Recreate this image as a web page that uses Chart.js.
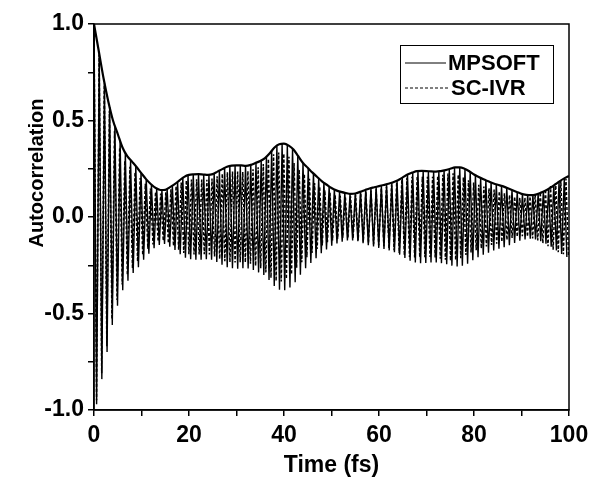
<!DOCTYPE html>
<html>
<head>
<meta charset="utf-8">
<script src="https://cdn.jsdelivr.net/npm/chart.js@4.4.1/dist/chart.umd.min.js"></script>
<style>
  html, body { margin: 0; padding: 0; background: #fff; }
  #wrap { width: 592px; height: 477px; }
</style>
</head>
<body>
<div id="wrap"><canvas id="c" width="592" height="477"></canvas></div>
<script>
// MPSOFT modulus |C(t)|, one value per fs from 0 to 100
const envelope = [
  1.0, 0.86, 0.72, 0.6, 0.5, 0.43, 0.36, 0.315, 0.287, 0.258,
  0.226, 0.195, 0.17, 0.15, 0.14, 0.141, 0.155, 0.17, 0.19, 0.208,
  0.218, 0.221, 0.222, 0.22, 0.218, 0.222, 0.235, 0.248, 0.26, 0.266,
  0.268, 0.267, 0.265, 0.27, 0.28, 0.29, 0.305, 0.33, 0.36, 0.377,
  0.38, 0.37, 0.35, 0.315, 0.28, 0.255, 0.23, 0.207, 0.185, 0.167,
  0.15, 0.138, 0.13, 0.124, 0.12, 0.122, 0.13, 0.139, 0.148, 0.154,
  0.16, 0.166, 0.172, 0.18, 0.19, 0.205, 0.22, 0.23, 0.238, 0.239,
  0.238, 0.236, 0.235, 0.238, 0.243, 0.25, 0.257, 0.257, 0.25, 0.237,
  0.22, 0.207, 0.195, 0.185, 0.175, 0.167, 0.16, 0.15, 0.14, 0.13,
  0.12, 0.115, 0.113, 0.116, 0.125, 0.136, 0.15, 0.167, 0.185, 0.2,
  0.212
];
const envStep = 1.0;

// real part, successive maxima / minima (half period apart)
const mpsoftHalf = 0.55;
const mpsoftRe = [
  1.0, -0.97, 0.846, -0.84, 0.696, -0.7, 0.57, -0.56, 0.472, -0.46,
  0.395, -0.38, 0.331, -0.33, 0.295, -0.29, 0.264, -0.26, 0.229, -0.222,
  0.195, -0.19, 0.168, -0.162, 0.148, -0.145, 0.139, -0.14, 0.146, -0.154,
  0.162, -0.171, 0.182, -0.193, 0.203, -0.211, 0.216, -0.219, 0.221, -0.221,
  0.222, -0.221, 0.22, -0.219, 0.219, -0.221, 0.226, -0.233, 0.24, -0.247,
  0.254, -0.26, 0.264, -0.266, 0.267, -0.268, 0.267, -0.266, 0.265, -0.267,
  0.27, -0.275, 0.281, -0.287, 0.293, -0.301, 0.312, -0.326, 0.342, -0.358,
  0.369, -0.377, 0.379, -0.379, 0.373, -0.365, 0.354, -0.338, 0.318, -0.299,
  0.28, -0.266, 0.253, -0.238, 0.225, -0.213, 0.2, -0.188, 0.178, -0.168,
  0.158, -0.149, 0.143, -0.137, 0.132, -0.128, 0.125, -0.122, 0.12, -0.121,
  0.122, -0.126, 0.131, -0.136, 0.14, -0.146, 0.149, -0.153, 0.156, -0.16,
  0.163, -0.166, 0.17, -0.173, 0.178, -0.183, 0.188, -0.195, 0.204, -0.212,
  0.22, -0.226, 0.231, -0.235, 0.238, -0.239, 0.239, -0.238, 0.237, -0.236,
  0.236, -0.235, 0.237, -0.239, 0.242, -0.245, 0.249, -0.252, 0.256, -0.257,
  0.257, -0.253, 0.249, -0.242, 0.234, -0.224, 0.216, -0.209, 0.202, -0.196,
  0.19, -0.185, 0.179, -0.174, 0.169, -0.165, 0.161, -0.157, 0.151, -0.146,
  0.14, -0.135, 0.129, -0.123, 0.119, -0.116, 0.114, -0.113, 0.114, -0.116,
  0.12, -0.126, 0.132, -0.138, 0.146, -0.154, 0.164, -0.173, 0.183, -0.192,
  0.2, -0.207
];

const scivrHalf = 0.54;
const scivrRe = [
  1.0, -0.95, 0.84, -0.81, 0.685, -0.67, 0.55, -0.53, 0.445, -0.43,
  0.36, -0.35, 0.291, -0.3, 0.26, -0.265, 0.232, -0.23, 0.202, -0.197,
  0.172, -0.165, 0.148, -0.142, 0.13, -0.127, 0.122, -0.123, 0.128, -0.136,
  0.143, -0.15, 0.16, -0.17, 0.179, -0.186, 0.19, -0.193, 0.194, -0.194,
  0.195, -0.194, 0.194, -0.193, 0.193, -0.194, 0.199, -0.205, 0.211, -0.217,
  0.224, -0.229, 0.232, -0.234, 0.235, -0.236, 0.235, -0.234, 0.233, -0.235,
  0.238, -0.242, 0.247, -0.253, 0.258, -0.265, 0.275, -0.287, 0.301, -0.315,
  0.325, -0.332, 0.334, -0.334, 0.328, -0.321, 0.312, -0.297, 0.28, -0.263,
  0.246, -0.234, 0.223, -0.209, 0.198, -0.187, 0.176, -0.165, 0.157, -0.148,
  0.139, -0.131, 0.126, -0.121, 0.116, -0.113, 0.11, -0.107, 0.106, -0.106,
  0.107, -0.111, 0.115, -0.12, 0.123, -0.128, 0.131, -0.135, 0.137, -0.141,
  0.143, -0.146, 0.15, -0.152, 0.157, -0.161, 0.165, -0.172, 0.18, -0.187,
  0.194, -0.199, 0.203, -0.207, 0.209, -0.21, 0.21, -0.209, 0.209, -0.208,
  0.208, -0.207, 0.209, -0.21, 0.213, -0.216, 0.219, -0.222, 0.225, -0.226,
  0.226, -0.223, 0.219, -0.213, 0.206, -0.197, 0.19, -0.184, 0.178, -0.172,
  0.167, -0.163, 0.158, -0.153, 0.149, -0.145, 0.142, -0.138, 0.133, -0.128,
  0.123, -0.119, 0.114, -0.108, 0.105, -0.102, 0.1, -0.099, 0.1, -0.102,
  0.106, -0.111, 0.116, -0.121, 0.128, -0.136, 0.144, -0.152, 0.161, -0.169,
  0.176, -0.182, 0.188, -0.193, 0.198, -0.202
];

const legendNames = ['MPSOFT', 'SC-IVR'];
const xTitle = 'Time (fs)';
const yTitle = 'Autocorrelation';

const FONT = '"Liberation Sans", Arial, sans-serif';
const toPts = (arr, step) => arr.map((v, i) => ({ x: i * step, y: v }));

// frame, axis titles and the boxed legend
const decor = {
  id: 'decor',
  afterDraw(chart) {
    const { ctx, chartArea: a } = chart;
    ctx.save();
    ctx.strokeStyle = '#000';
    ctx.lineWidth = 1.5;
    ctx.strokeRect(a.left, a.top, a.right - a.left, a.bottom - a.top);

    ctx.fillStyle = '#000';
    ctx.font = `bold 23px ${FONT}`;
    ctx.textAlign = 'center';
    ctx.textBaseline = 'middle';
    ctx.fillText(xTitle, (a.left + a.right) / 2, 466);
    ctx.font = `bold 20px ${FONT}`;
    ctx.save();
    ctx.translate(37, 173);
    ctx.rotate(-Math.PI / 2);
    ctx.fillText(yTitle, 0, 0);
    ctx.restore();

    // legend
    ctx.fillStyle = '#fff';
    ctx.fillRect(400, 45, 153, 58);
    ctx.lineWidth = 1;
    ctx.strokeRect(400.5, 45.5, 153, 58);
    ctx.fillStyle = '#000';
    ctx.font = `bold 22px ${FONT}`;
    ctx.textAlign = 'left';
    ctx.beginPath();
    ctx.moveTo(405, 63); ctx.lineTo(446, 63);
    ctx.stroke();
    ctx.fillText(legendNames[0], 448, 64);
    ctx.setLineDash([3, 2]);
    ctx.beginPath();
    ctx.moveTo(405, 88); ctx.lineTo(449, 88);
    ctx.stroke();
    ctx.setLineDash([]);
    ctx.fillText(legendNames[1], 451, 89);
    ctx.restore();
  }
};

new Chart(document.getElementById('c'), {
  type: 'line',
  data: {
    datasets: [
      {
        label: 'MPSOFT |C|',
        data: toPts(envelope, envStep),
        borderColor: '#000',
        borderWidth: 2.2,
        pointRadius: 0,
        cubicInterpolationMode: 'monotone',
        order: 0
      },
      {
        label: legendNames[1],
        data: toPts(scivrRe, scivrHalf),
        borderColor: '#000',
        borderWidth: 1.5,
        borderDash: [3, 2],
        pointRadius: 0,
        tension: 0,
        order: 1
      },
      {
        label: legendNames[0],
        data: toPts(mpsoftRe, mpsoftHalf),
        borderColor: '#000',
        borderWidth: 1.4,
        pointRadius: 0,
        tension: 0,
        order: 2
      }
    ]
  },
  options: {
    responsive: false,
    animation: false,
    parsing: false,
    layout: { padding: { top: 24, right: 23, left: 0, bottom: 0 } },
    plugins: { legend: { display: false }, tooltip: { enabled: false } },
    scales: {
      x: {
        type: 'linear',
        min: 0, max: 100,
        afterFit: (s) => { s.height = 67; s.paddingLeft = 0; s.paddingRight = 0; },
        ticks: {
          stepSize: 10,
          autoSkip: false,
          maxRotation: 0,
          padding: 6,
          color: '#000',
          font: { family: FONT, size: 23, weight: 'bold' },
          callback: (v) => (v % 20 === 0 ? String(v) : '')
        },
        grid: { drawOnChartArea: false, drawTicks: true, tickLength: 6, color: '#000', lineWidth: 1.5 },
        border: { display: true, color: '#000', width: 1.5 }
      },
      y: {
        min: -1, max: 1,
        afterFit: (s) => { s.width = 94; s.paddingTop = 0; s.paddingBottom = 0; },
        ticks: {
          stepSize: 0.25,
          autoSkip: false,
          padding: 4,
          color: '#000',
          font: { family: FONT, size: 23, weight: 'bold' },
          callback: (v) => (Math.abs(v * 2 - Math.round(v * 2)) < 1e-6 ? v.toFixed(1) : '')
        },
        grid: { drawOnChartArea: false, drawTicks: true, tickLength: 6, color: '#000', lineWidth: 1.5 },
        border: { display: true, color: '#000', width: 1.5 }
      }
    }
  },
  plugins: [decor]
});
</script>
</body>
</html>
